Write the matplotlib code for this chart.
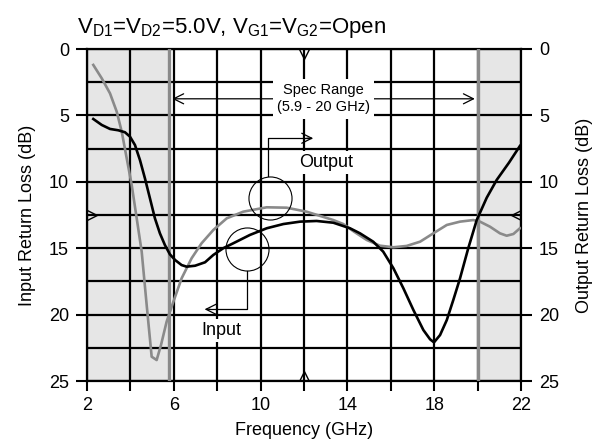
import matplotlib
matplotlib.use("Agg")
import matplotlib.pyplot as plt
from matplotlib import font_manager
from matplotlib.path import Path

# ---------------- data ----------------
in_freq = [2.29, 2.68, 3.06, 3.44, 3.75, 3.98, 4.21, 4.44, 4.67, 4.90, 5.13, 5.36,
           5.59, 5.82, 6.06, 6.36, 6.59, 6.98, 7.44, 7.82, 8.28, 8.74, 9.51, 10.28,
           11.05, 11.82, 12.58, 13.35, 14.12, 14.58, 15.19, 15.65, 16.12, 16.58,
           17.04, 17.50, 17.81, 17.99, 18.27, 18.58, 18.88, 19.19, 19.57, 19.96,
           20.42, 20.88, 21.45, 21.95]
in_rl = [5.27, 5.72, 6.02, 6.12, 6.27, 6.60, 7.23, 8.36, 9.74, 11.24, 12.75, 13.88,
         14.76, 15.46, 15.89, 16.27, 16.39, 16.32, 16.06, 15.51, 15.0, 14.63, 14.0,
         13.5, 13.18, 13.0, 12.95, 13.08, 13.5, 13.88, 14.51, 15.26, 16.51, 18.02,
         19.65, 21.16, 21.86, 22.09, 21.54, 20.41, 18.9, 17.27, 15.0, 12.88,
         11.2, 9.86, 8.55, 7.3]

out_freq = [2.29, 2.68, 3.06, 3.37, 3.60, 3.83, 4.06, 4.29, 4.52, 4.75, 4.98, 5.21,
            5.41, 5.67, 5.98, 6.36, 6.82, 7.28, 7.82, 8.44, 9.20, 10.28, 11.20,
            12.12, 13.35, 13.81, 14.3, 14.89, 15.50, 16.12, 16.73, 17.35, 17.96,
            18.58, 19.19, 19.80, 20.11, 20.57, 21.03, 21.34, 21.65, 21.95]
out_rl = [1.20, 2.21, 3.34, 4.72, 6.22, 8.23, 10.24, 12.75, 15.26, 19.28, 23.17, 23.42,
          22.29, 20.53, 19.03, 17.27, 15.76, 14.63, 13.63, 12.75, 12.25, 11.92, 11.95,
          12.25, 12.88, 13.18, 13.75, 14.38, 14.81, 14.93, 14.83, 14.51, 13.88,
          13.25, 13.0, 12.88, 13.0, 13.38, 13.88, 14.06, 13.93, 13.5]

x_major = [2, 6, 10, 14, 18, 22]
x_minor = [4, 8, 12, 16, 20]
y_major = [0, 5, 10, 15, 20, 25]
y_minor = [2.5, 7.5, 12.5, 17.5, 22.5]
spec_lo, spec_hi = 5.8, 20.0
f_min, f_max = 2, 22

# ---------------- fonts ----------------
def pick_font():
    for name in ["Liberation Sans Narrow", "DejaVu Sans Condensed", "Liberation Sans"]:
        try:
            font_manager.findfont(name, fallback_to_default=False)
            return name
        except Exception:
            pass
    return "DejaVu Sans"

FONT = pick_font()
plt.rcParams["font.family"] = [FONT, "DejaVu Sans"]
plt.rcParams["mathtext.default"] = "regular"
fs_tick = 13
fs_title = 16
fs_note = 10.5

fig = plt.figure(figsize=(6.01, 4.45), dpi=100)
ax = fig.add_axes([87/601, 1-381/445, (521-87)/601, (381-49)/445])

# shading
ax.axvspan(f_min, spec_lo, color="#e6e6e6", lw=0, zorder=0)
ax.axvspan(spec_hi, f_max, color="#e6e6e6", lw=0, zorder=0)

ax.set_xlim(f_min, f_max)
ax.set_ylim(25, 0)
ax.set_xticks(x_major)
ax.set_xticks(x_minor, minor=True)
ax.set_yticks(y_major)
ax.set_yticks(y_minor, minor=True)
ax.tick_params(axis="x", which="both", direction="out", length=7, width=1.5,
               labelsize=fs_tick, pad=4.5)
ax.tick_params(axis="y", which="major", direction="out", length=8, width=1.5,
               labelsize=fs_tick, pad=5)
ax.tick_params(axis="y", which="minor", length=0)
ax.grid(True, which="both", color="black", lw=1.6, zorder=1)
ax.set_axisbelow(False)
for s in ax.spines.values():
    s.set_linewidth(1.6)
    s.set_zorder(2)

# spec boundaries
ax.axvline(spec_lo, color="#8a8a8a", lw=2.4, zorder=3)
ax.axvline(spec_hi, color="#8a8a8a", lw=2.4, zorder=3)

ax.set_xlabel("Frequency (GHz)", fontsize=fs_tick, labelpad=6)
ax.set_ylabel("Input Return Loss (dB)", fontsize=fs_tick, labelpad=9.5)

ax2 = ax.twinx()
ax2.set_ylim(25, 0)
ax2.set_yticks(y_major)
ax2.tick_params(axis="y", direction="out", length=8, width=1.5, labelsize=fs_tick, pad=5)
ax2.set_ylabel("Output Return Loss (dB)", fontsize=fs_tick, labelpad=12)
for s in ax2.spines.values():
    s.set_visible(False)

# curves
ax2.plot(out_freq, out_rl, color="#8a8a8a", lw=1.9, zorder=5, solid_joinstyle="round")
ax2.plot(in_freq, in_rl, color="black", lw=1.9, zorder=6, solid_joinstyle="round")

# chevron markers at axis centres
chev_down = Path([(-1, 1), (0, -1), (1, 1)], [Path.MOVETO, Path.LINETO, Path.LINETO])
chev_up = Path([(-1, -1), (0, 1), (1, -1)], [Path.MOVETO, Path.LINETO, Path.LINETO])
chev_right = Path([(-1, 1), (1, 0), (-1, -1)], [Path.MOVETO, Path.LINETO, Path.LINETO])
chev_left = Path([(1, 1), (-1, 0), (1, -1)], [Path.MOVETO, Path.LINETO, Path.LINETO])
mk = dict(ms=7, mfc="none", mec="black", mew=1.0, clip_on=False, zorder=7, ls="none")
ax2.plot([12], [0.4], marker=chev_down, **mk)
ax2.plot([12], [24.6], marker=chev_up, **mk)
ax2.plot([2.25], [12.5], marker=chev_right, **mk)
ax2.plot([21.75], [12.5], marker=chev_left, **mk)

# spec range arrow
arr = dict(arrowstyle="->", lw=0.9, color="black", mutation_scale=18)
ax2.annotate("", xy=(spec_lo, 3.75), xytext=(12.9, 3.75), arrowprops=arr, zorder=7)
ax2.annotate("", xy=(spec_hi, 3.75), xytext=(12.9, 3.75), arrowprops=arr, zorder=7)
ax2.text(12.9, 3.75, "Spec Range\n(5.9 - 20 GHz)", ha="center", va="center",
         fontsize=fs_note, linespacing=1.3, zorder=8,
         bbox=dict(boxstyle="square,pad=0.3", fc="white", ec="none"))

# output annotation
ax2.plot([10.43], [11.25], marker="o", ms=31, mfc="none", mec="black", mew=0.8, zorder=7)
ax2.plot([10.36, 10.36, 12.3], [9.6, 6.72, 6.72], color="black", lw=0.9, zorder=7)
ax2.annotate("", xy=(12.55, 6.72), xytext=(12.0, 6.72), arrowprops=arr, zorder=7)
ax2.text(13.0, 8.55, "Output", ha="center", va="center", fontsize=fs_tick, zorder=8,
         bbox=dict(boxstyle="square,pad=0.15", fc="white", ec="none"))

# input annotation
ax2.plot([9.36], [15.06], marker="o", ms=31, mfc="none", mec="black", mew=0.8, zorder=7)
ax2.plot([9.39, 9.39, 7.6], [16.7, 19.6, 19.6], color="black", lw=0.9, zorder=7)
ax2.annotate("", xy=(7.29, 19.6), xytext=(7.8, 19.6), arrowprops=arr, zorder=7)
ax2.text(8.2, 21.2, "Input", ha="center", va="center", fontsize=fs_tick, zorder=8,
         bbox=dict(boxstyle="square,pad=0.15", fc="white", ec="none"))

fig.text(77/601, 1-33/445, r"V$_{D1}$=V$_{D2}$=5.0V, V$_{G1}$=V$_{G2}$=Open",
         fontsize=fs_title, ha="left", va="baseline")

fig.savefig("out.png", dpi=100)
